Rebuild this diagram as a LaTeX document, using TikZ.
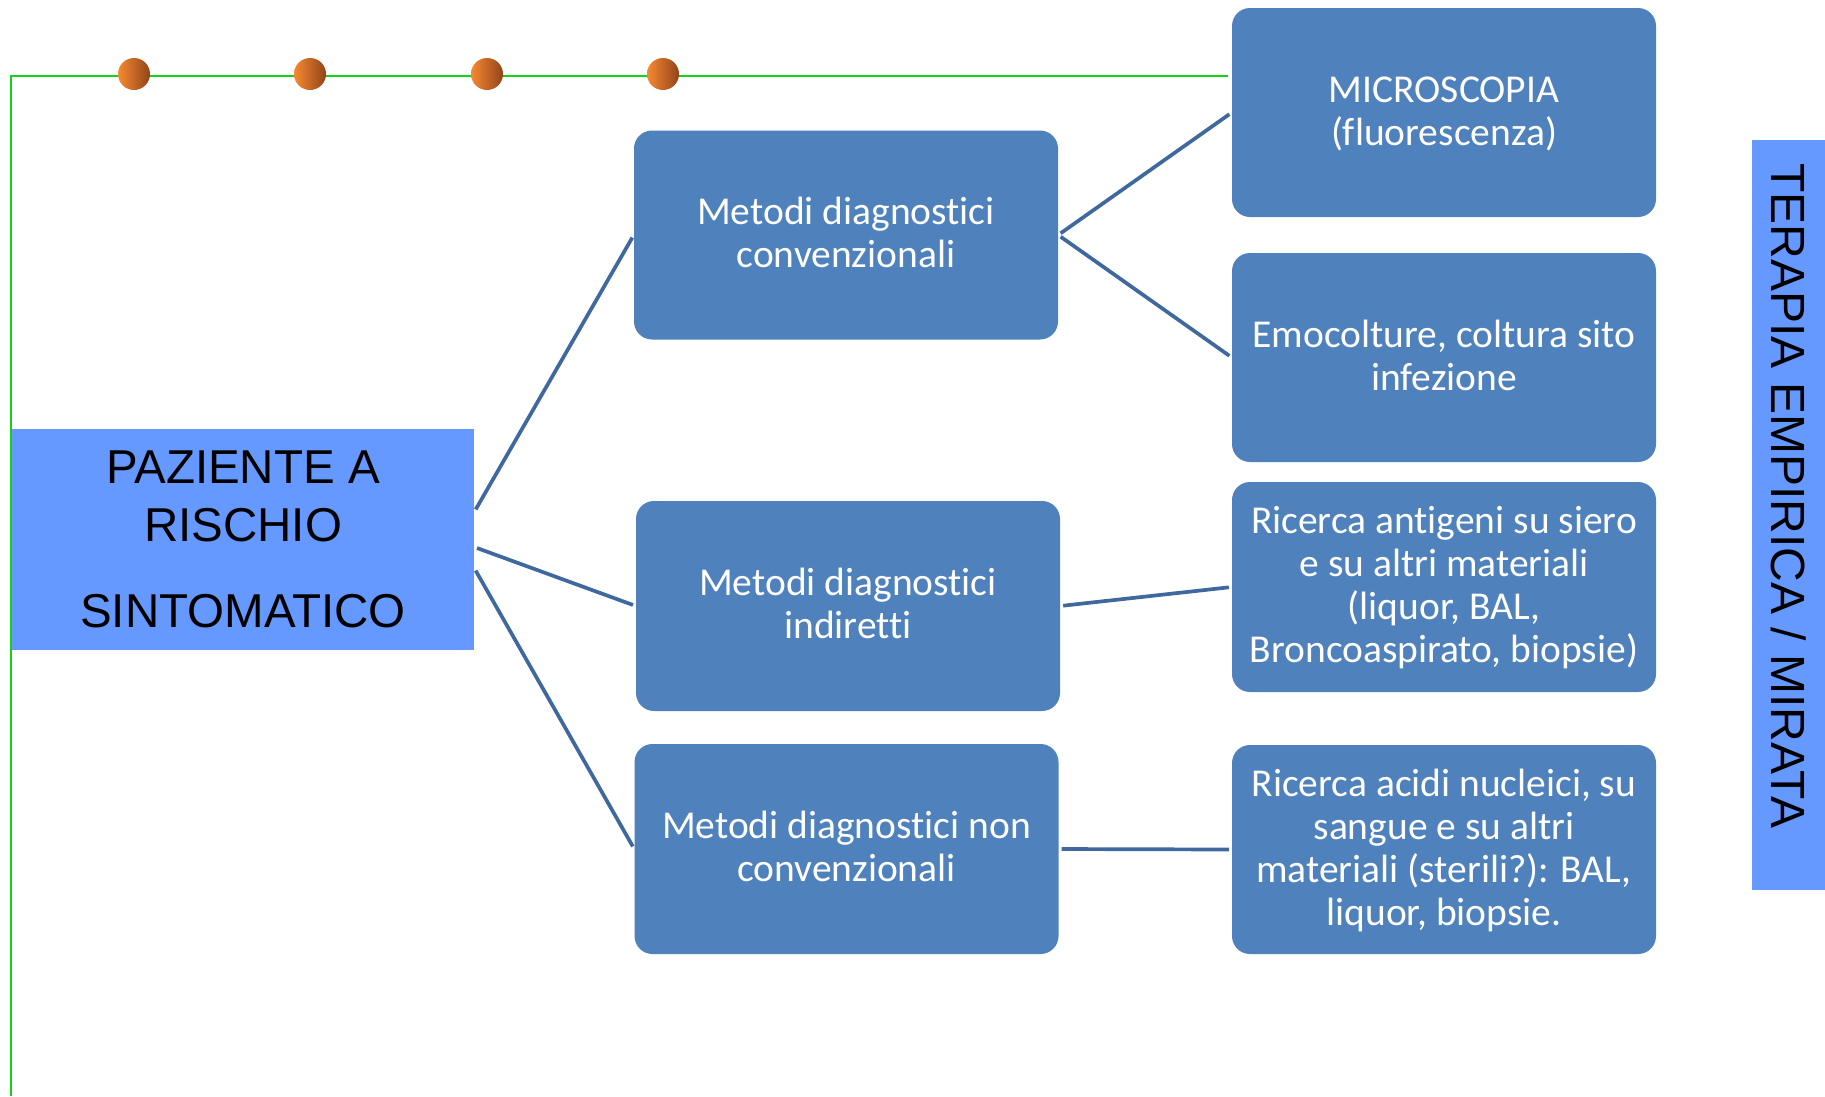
\documentclass[tikz,border=0pt]{standalone}
\usepackage{fontspec}
\setmainfont{Carlito}[Ligatures=NoCommon]
\newfontfamily\arialf{Liberation Sans}
\definecolor{boxblue}{RGB}{79,129,189}
\definecolor{lightblue}{RGB}{102,153,255}
\definecolor{conn}{RGB}{62,104,158}
\definecolor{grn}{RGB}{20,210,20}
\definecolor{dotA}{RGB}{247,137,50}
\definecolor{dotB}{RGB}{145,68,24}
\newcommand{\lnstrut}{\rule[-10pt]{0pt}{42pt}}
\begin{document}
\begin{tikzpicture}[x=1pt,y=-1pt,
  rbox/.style={fill=boxblue, rounded corners=18pt, minimum width=424pt, minimum height=209pt,
    inner sep=0pt, align=center, text=white, font=\fontsize{39.5}{43}\selectfont},
  sqbox/.style={fill=lightblue, inner sep=0pt, align=center, text=black},
  link/.style={draw=conn, line width=3.7pt, shorten <=3pt, shorten >=3pt},
  greenline/.style={draw=grn, line width=2.5pt},
  ball/.style={circle, minimum size=32pt, inner sep=0pt, left color=dotA, right color=dotB}
]
\useasboundingbox (0,0) rectangle (1825,1096);
\fill[white] (0,0) rectangle (1825,1096);

% green frame line
\coordinate (gtop) at (1228,76);
\coordinate (gcorner) at (11,76);
\coordinate (gbottom) at (11,1096);
\draw[greenline] (gtop) -- (gcorner) -- (gbottom);

% orange dots
\node[ball] (d1) at (134,74) {};
\node[ball] (d2) at (310,74) {};
\node[ball] (d3) at (487,74) {};
\node[ball] (d4) at (663,74) {};

% left box
\node[sqbox, minimum width=462pt, minimum height=221pt,
  font=\arialf\fontsize{47.5}{58}\selectfont] (paz) at (243,539.5)
  {PAZIENTE A\\RISCHIO\\[28pt]SINTOMATICO};

% right vertical box
\node[sqbox, minimum width=73pt, minimum height=750pt] (ter) at (1788.5,515) {};
\node[rotate=-90, inner sep=0pt, font=\arialf\fontsize{48}{58}\selectfont] (tert) at (1788.5,496)
  {TERAPIA EMPIRICA / MIRATA};

% middle boxes
\node[rbox] (b1) at (846,235) {\lnstrut Metodi diagnostici\\convenzionali\lnstrut};
\node[rbox, minimum height=210pt] (b2) at (848,606) {\lnstrut Metodi diagnostici\\indiretti\lnstrut};
\node[rbox, minimum height=210pt] (b3) at (846.5,849) {\lnstrut Metodi diagnostici non\\convenzionali\lnstrut};

% right boxes
\node[rbox] (r1) at (1444,112.5) {\lnstrut MICROSCOPIA\\(fluorescenza)\lnstrut};
\node[rbox] (r2) at (1444,357.5) {\lnstrut Emocolture, coltura sito\\infezione\lnstrut};
\node[rbox, minimum height=210pt] (r3) at (1444,587) {\lnstrut Ricerca antigeni su siero\\e su altri materiali\\(liquor, BAL,\\Broncoaspirato, biopsie)\lnstrut};
\node[rbox] (r4) at (1444,849.5) {\lnstrut Ricerca acidi nucleici, su\\sangue e su altri\\materiali (sterili?): BAL,\\liquor, biopsie.\lnstrut};

% connectors
\draw[link] ([yshift=27.5pt]paz.east) -- (b1.west);
\draw[link] ([yshift=-7.5pt]paz.east) -- (b2.west);
\draw[link] ([yshift=-28.5pt]paz.east) -- (b3.west);
\draw[link] (b1.east) -- (r1.west);
\draw[link] (b1.east) -- (r2.west);
\draw[link] (b2.east) -- (r3.west);
\draw[link] (b3.east) -- (r4.west);
\end{tikzpicture}
\end{document}
